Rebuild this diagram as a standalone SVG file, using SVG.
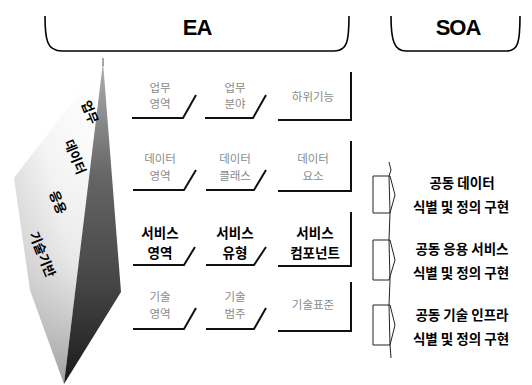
<svg xmlns="http://www.w3.org/2000/svg" width="532" height="385" viewBox="0 0 532 385">
<style>
.hd{font-family:"Liberation Sans","Noto Sans CJK KR",sans-serif;font-weight:bold;font-size:22px;fill:#000;text-anchor:middle;letter-spacing:-1px}
.g{font-family:"Noto Sans CJK KR","Noto Sans",sans-serif;font-size:11.5px;fill:#8a8a8a;text-anchor:middle}
.b{font-family:"Noto Sans CJK KR","Noto Sans",sans-serif;font-weight:bold;font-size:13.5px;fill:#000;text-anchor:middle}
.r{font-family:"Noto Sans CJK KR","Noto Sans",sans-serif;font-weight:bold;font-size:13.5px;fill:#000;text-anchor:middle}
.p{font-family:"Noto Sans CJK KR","Noto Sans",sans-serif;font-weight:bold;font-size:13px;fill:#000}
.ln{fill:none;stroke:#111;stroke-width:2}
.br{fill:none;stroke:#000;stroke-width:1.6}
.cn{fill:none;stroke:#222;stroke-width:1}
</style>
<defs>
<linearGradient id="gr" x1="0" y1="0" x2="0" y2="1">
<stop offset="0" stop-color="#b0b0b0"/>
<stop offset="0.35" stop-color="#666"/>
<stop offset="0.7" stop-color="#444"/>
<stop offset="1" stop-color="#1a1a1a"/>
</linearGradient>
<linearGradient id="gl" x1="0.9" y1="0.1" x2="0.1" y2="0.8">
<stop offset="0" stop-color="#fff"/>
<stop offset="0.5" stop-color="#f6f6f6"/>
<stop offset="1" stop-color="#cfcfcf"/>
</linearGradient>
<linearGradient id="gb" x1="0" y1="0" x2="0" y2="1">
<stop offset="0" stop-color="#fff" stop-opacity="0"/>
<stop offset="0.6" stop-color="#ccc" stop-opacity="0.3"/>
<stop offset="1" stop-color="#999" stop-opacity="0.9"/>
</linearGradient>
</defs>

<g id="header-ea">
<path class="br" d="M45,16 C45,40 47,51 62,51 L334,51 C347,51 349,42 349,16"/>
<text class="hd" x="197" y="35">EA</text>
</g>
<g id="header-soa">
<path class="br" d="M391,16 C391,40 394,51 406,51 L507,51 C518,51 520,42 520,16"/>
<text class="hd" x="458" y="35">SOA</text>
</g>

<g id="pyramid">
<polygon points="103,62 14,178 30,290 64,384" fill="url(#gl)"/>
<polygon points="103,62 14,178 30,290 64,384" fill="url(#gb)"/>
<polygon points="103,62 121,292 64,384" fill="url(#gr)"/>
<line x1="103" y1="58" x2="103" y2="66" stroke="#555" stroke-width="1"/>
<text class="p" transform="translate(81,103) rotate(68)">업무</text>
<text class="p" transform="translate(64,142) rotate(68)">데이터</text>
<text class="p" transform="translate(49,193) rotate(68)">응용</text>
<text class="p" transform="translate(29,234) rotate(68)">기술기반</text>
</g>

<g id="row1-col1"><text class="g" x="160" y="92">업무</text><text class="g" x="160" y="108">영역</text><path class="ln" d="M132,118 L183,118 L196,95"/></g>
<g id="row1-col2"><text class="g" x="235" y="92">업무</text><text class="g" x="235" y="108">분야</text><path class="ln" d="M205,118 L253,118 L266,95"/></g>
<g id="row1-col3"><text class="g" x="313" y="101">하위기능</text><path class="ln" d="M278,120 L351,120 L351,72"/></g>

<g id="row2-col1"><text class="g" x="160" y="163">데이터</text><text class="g" x="160" y="180">영역</text><path class="ln" d="M133,190 L184,190 L196,170"/></g>
<g id="row2-col2"><text class="g" x="235" y="163">데이터</text><text class="g" x="235" y="180">클래스</text><path class="ln" d="M206,190 L254,190 L266,170"/></g>
<g id="row2-col3"><text class="g" x="313" y="163">데이터</text><text class="g" x="313" y="180">요소</text><path class="ln" d="M278,191 L351,191 L351,141"/></g>

<g id="row3-col1"><text class="b" x="160" y="238">서비스</text><text class="b" x="160" y="258">영역</text><path class="ln" d="M133,265 L184,265 L195,247"/></g>
<g id="row3-col2"><text class="b" x="235" y="238">서비스</text><text class="b" x="235" y="258">유형</text><path class="ln" d="M206,265 L254,265 L266,247"/></g>
<g id="row3-col3"><text class="b" x="315" y="238">서비스</text><text class="b" x="315" y="258">컴포넌트</text><path class="ln" d="M278,266 L351,266 L351,212"/></g>

<g id="row4-col1"><text class="g" x="160" y="301">기술</text><text class="g" x="160" y="318">영역</text><path class="ln" d="M133,329 L184,329 L196,308"/></g>
<g id="row4-col2"><text class="g" x="235" y="301">기술</text><text class="g" x="235" y="318">범주</text><path class="ln" d="M206,329 L254,329 L266,308"/></g>
<g id="row4-col3"><text class="g" x="313" y="309">기술표준</text><path class="ln" d="M278,331 L351,331 L351,282"/></g>

<g id="connectors">
<path class="cn" d="M389,162 L391,170 L389,176 L390,213 L389,240 L390,280 L389,305 L390,345 L391,358"/>
<path class="cn" d="M373,176 L390,176 L395,195 L390,213 L373,213 Z"/>
<path class="cn" d="M373,240 L390,240 L395,260 L389,280 L373,280 Z"/>
<path class="cn" d="M373,305 L390,305 L395,325 L390,345 L373,345 Z"/>
</g>

<g id="soa-data"><text class="r" x="462" y="188">공동 데이터</text><text class="r" x="461" y="212">식별 및 정의 구현</text></g>
<g id="soa-app"><text class="r" x="462" y="254">공동 응용 서비스</text><text class="r" x="461" y="278">식별 및 정의 구현</text></g>
<g id="soa-infra"><text class="r" x="462" y="320">공동 기술 인프라</text><text class="r" x="461" y="344">식별 및 정의 구현</text></g>
</svg>
